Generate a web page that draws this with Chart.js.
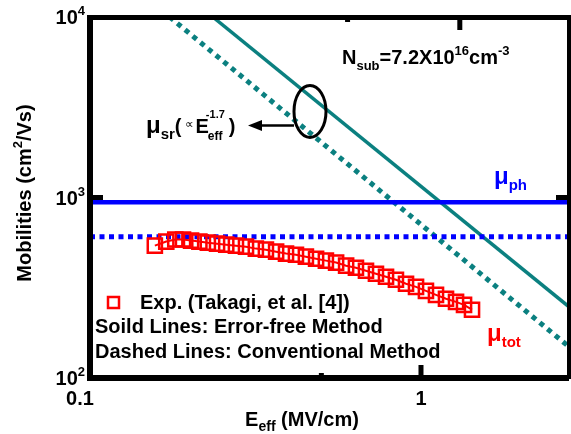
<!DOCTYPE html>
<html>
<head>
<meta charset="utf-8">
<script src="https://cdn.jsdelivr.net/npm/chart.js@4.4.1/dist/chart.umd.min.js"></script>
<style>
  html, body { margin: 0; padding: 0; background: #fff; }
  #wrap { width: 571px; height: 434px; }
</style>
</head>
<body>
<div id="wrap"><canvas id="mobility"></canvas></div>
<script>
// Takagi et al. measured total mobility
const effField = [0.157, 0.170, 0.181, 0.191, 0.202, 0.214, 0.227, 0.242, 0.258, 0.276,
  0.296, 0.317, 0.340, 0.365, 0.391, 0.419, 0.449, 0.482, 0.516, 0.554,
  0.594, 0.636, 0.682, 0.731, 0.784, 0.840, 0.901, 0.966, 1.035, 1.110,
  1.190, 1.276, 1.349, 1.426];
const muTot = [541, 570, 585, 585, 577, 570, 562, 555, 548, 541,
  534, 521, 514, 501, 489, 482, 470, 458, 447, 436,
  419, 408, 393, 378, 364, 350, 333, 320, 304, 289,
  275, 264, 254, 239];

// phonon-limited mobility: error-free vs conventional extraction
const muPhSolid = 940;
const muPhDashed = 607;

// surface-roughness mobility lines (end points)
const srSolidE = [0.235, 2.8];
const srSolidMu = [10000, 248];
const srDashE = [0.174, 2.8];
const srDashMu = [10000, 149];

const xRange = [0.1, 2.8];
const yRange = [100, 10000];
const xTickVals = [0.1, 1];
const xTickText = ["0.1", "1"];
const yTickVals = [100, 1000, 10000];
const yTickExp = ["2", "3", "4"];
// inward tick marks: [value, length]
const bottomTicks = [[1, 13], [0.5, 5]];
const topTicks = [[1.31, 13], [0.6, 5]];

const BLUE = "#0000ff";
const TEAL = "#0b8080";
const RED = "#ff0000";
const FONT = "'Liberation Sans', Arial, sans-serif";

const pts = (xs, ys) => xs.map((x, i) => ({ x: x, y: ys[i] }));

// draws a run of text pieces: [text, size, dy, weight]
function richText(ctx, x, y, parts, color) {
  ctx.fillStyle = color;
  ctx.textBaseline = "alphabetic";
  ctx.textAlign = "left";
  let cx = x;
  parts.forEach(([t, size, dy, weight]) => {
    ctx.font = (weight || "bold") + " " + size + "px " + FONT;
    ctx.fillText(t, cx, y + (dy || 0));
    cx += ctx.measureText(t).width;
  });
  return cx - x;
}

function richWidth(ctx, parts) {
  let w = 0;
  parts.forEach(([t, size, dy, weight]) => {
    ctx.font = (weight || "bold") + " " + size + "px " + FONT;
    w += ctx.measureText(t).width;
  });
  return w;
}

const decorations = {
  id: "decorations",
  afterDraw(chart) {
    const { ctx, chartArea: a, scales } = chart;
    const xs = scales.x, ys = scales.y;
    ctx.save();

    // inward tick marks
    ctx.fillStyle = "#000";
    const y3 = ys.getPixelForValue(1000);
    ctx.fillRect(a.left, y3 - 2.5, 13, 5);
    ctx.fillRect(a.right - 13, y3 - 2.5, 13, 5);
    bottomTicks.forEach(([v, len]) => {
      ctx.fillRect(xs.getPixelForValue(v) - 2.5, a.bottom - len, 5, len);
    });
    topTicks.forEach(([v, len]) => {
      ctx.fillRect(xs.getPixelForValue(v) - 2.5, a.top, 5, len);
    });

    // axes box
    ctx.fillRect(a.left - 3, a.top - 2, 6, a.bottom - a.top + 5);
    ctx.fillRect(a.left - 3, a.bottom - 3, a.right - a.left + 3, 6);
    ctx.fillRect(a.left - 3, a.top - 2, a.right - a.left + 3, 5);
    ctx.fillRect(a.right - 2, a.top - 2, 4, a.bottom - a.top + 3);

    // y tick labels 10^n
    yTickVals.forEach((v, i) => {
      const py = ys.getPixelForValue(v);
      const parts = [["10", 20, 0], [yTickExp[i], 13, -9]];
      const w = richWidth(ctx, parts);
      richText(ctx, 85 - w, py + 7, parts, "#000");
    });

    // x tick labels
    ctx.font = "bold 20px " + FONT;
    ctx.textAlign = "center";
    ctx.fillStyle = "#000";
    xTickVals.forEach((v, i) => {
      const px = xs.getPixelForValue(v) - (i === 0 ? 10 : 0);
      ctx.fillText(xTickText[i], px, 405);
    });

    // axis titles
    const xt = [["E", 20, 0], ["eff", 14, 5], [" (MV/cm)", 20, 0]];
    const xtw = richWidth(ctx, xt);
    richText(ctx, 302 - xtw / 2, 426, xt, "#000");

    ctx.save();
    ctx.translate(31, 193);
    ctx.rotate(-Math.PI / 2);
    const yt = [["Mobilities (cm", 20, 0], ["2", 13, -9], ["/Vs)", 20, 0]];
    const ytw = richWidth(ctx, yt);
    richText(ctx, -ytw / 2, 0, yt, "#000");
    ctx.restore();

    // N_sub note
    richText(ctx, 342, 64, [["N", 20, 0], ["sub", 13, 6], ["=7.2X10", 20, 0],
      ["16", 13, -9], ["cm", 20, 0], ["-3", 13, -9]], "#000");

    // curve labels
    richText(ctx, 494, 184, [["\u03bc", 24, 0], ["ph", 15, 6]], BLUE);
    richText(ctx, 487, 341, [["\u03bc", 24, 0], ["tot", 15, 6]], RED);

    // mu_sr marker: ellipse around both sr lines, arrow and label
    const ex = xs.getPixelForValue(0.462), ey = ys.getPixelForValue(3000);
    ctx.strokeStyle = "#000";
    ctx.lineWidth = 3;
    ctx.beginPath();
    ctx.ellipse(ex, ey, 16, 26, 0, 0, Math.PI * 2);
    ctx.stroke();
    const ay = ey + 14;
    ctx.lineWidth = 2.5;
    ctx.beginPath();
    ctx.moveTo(ex - 16, ay);
    ctx.lineTo(258, ay);
    ctx.stroke();
    ctx.fillStyle = "#000";
    ctx.beginPath();
    ctx.moveTo(248, ay);
    ctx.lineTo(262, ay - 5.5);
    ctx.lineTo(262, ay + 5.5);
    ctx.closePath();
    ctx.fill();

    let lx = 146;
    lx += richText(ctx, lx, 133, [["\u03bc", 24, 0], ["sr", 15, 6], ["(", 20, 0]], "#000");
    lx += 3;
    lx += richText(ctx, lx, 128, [["\u221d", 12, 0, "normal"]], "#000") + 2;
    lx += richText(ctx, lx, 133, [["E", 20, 0]], "#000");
    richText(ctx, lx - 3, 118, [["-1.7", 11, 0]], "#000");
    richText(ctx, lx - 1, 140, [["eff", 12, 0]], "#000");
    richText(ctx, lx + 20, 133, [[")", 20, 0]], "#000");

    // legend / notes
    ctx.strokeStyle = RED;
    ctx.lineWidth = 2.5;
    ctx.strokeRect(108, 297, 11, 11);
    richText(ctx, 140, 309, [["Exp. (Takagi, et al. [4])", 20, 0]], "#000");
    richText(ctx, 95, 333, [["Soild Lines: Error-free Method", 20, 0]], "#000");
    richText(ctx, 95, 358, [["Dashed Lines: Conventional Method", 20, 0]], "#000");

    ctx.restore();
  }
};

new Chart(document.getElementById("mobility"), {
  type: "scatter",
  data: {
    datasets: [
      {
        label: "Exp. (Takagi, et al. [4])",
        data: pts(effField, muTot),
        showLine: true,
        borderColor: RED,
        borderWidth: 2,
        pointStyle: "rect",
        pointRadius: 10,
        pointBorderWidth: 2.5,
        pointBorderColor: RED,
        pointBackgroundColor: "rgba(0,0,0,0)",
      },
      {
        label: "mu_ph error-free",
        data: pts(xRange, [muPhSolid, muPhSolid]),
        showLine: true,
        borderColor: BLUE,
        borderWidth: 4.5,
        pointRadius: 0,
      },
      {
        label: "mu_ph conventional",
        data: pts(xRange, [muPhDashed, muPhDashed]),
        showLine: true,
        borderColor: BLUE,
        borderWidth: 5,
        borderDash: [5, 4.5],
        pointRadius: 0,
      },
      {
        label: "mu_sr error-free",
        data: pts(srSolidE, srSolidMu),
        showLine: true,
        borderColor: TEAL,
        borderWidth: 3.5,
        pointRadius: 0,
      },
      {
        label: "mu_sr conventional",
        data: pts(srDashE, srDashMu),
        showLine: true,
        borderColor: TEAL,
        borderWidth: 5,
        borderDash: [5, 5],
        pointRadius: 0,
      },
    ],
  },
  options: {
    responsive: true,
    maintainAspectRatio: false,
    animation: false,
    layout: { autoPadding: false, padding: { top: 17, right: 2, left: 0, bottom: 0 } },
    plugins: { legend: { display: false }, tooltip: { enabled: false } },
    scales: {
      x: {
        type: "logarithmic",
        min: xRange[0],
        max: xRange[1],
        ticks: { display: false },
        grid: { display: false },
        border: { display: false },
        afterFit: (s) => { s.height = 56; },
      },
      y: {
        type: "logarithmic",
        min: yRange[0],
        max: yRange[1],
        ticks: { display: false },
        grid: { display: false },
        border: { display: false },
        afterFit: (s) => { s.width = 90; },
      },
    },
  },
  plugins: [decorations],
});
</script>
</body>
</html>
